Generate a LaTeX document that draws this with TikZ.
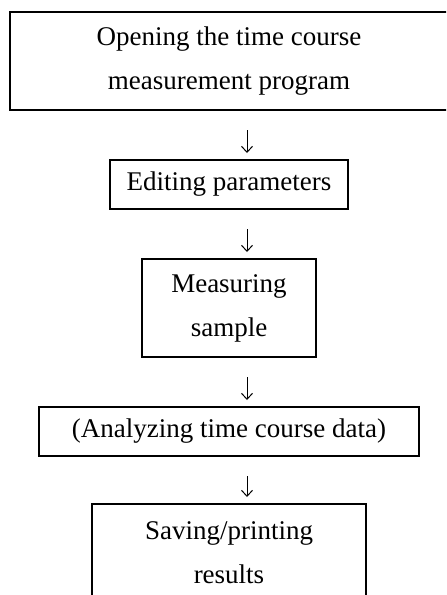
\documentclass[tikz,border=0pt]{standalone}
\usepackage{fontspec}
\setmainfont{Liberation Serif}
\usetikzlibrary{arrows.meta, positioning}

\begin{document}
\begin{tikzpicture}[
    x=0.5pt, y=-0.5pt,
    node distance=25pt,
    stepbox/.style={rectangle, draw=black, line width=1.25pt, outer sep=0pt, align=center, text centered, inner sep=0pt,
        font=\fontsize{13.5}{22}\selectfont},
    onebox/.style={stepbox, minimum height=24.5pt},
    twobox/.style={stepbox, minimum height=49pt},
    arrow/.style={line width=0.5pt, -{Straight Barb[length=3pt, width=5.5pt]}, shorten <=10pt, shorten >=3.5pt},
]
    \useasboundingbox (0,0) rectangle (446,595);
    \clip (0,0) rectangle (446,595);

    % Steps (the first box runs off the right edge)
    \node (open_prog) [twobox, anchor=west] at (10,61)
        {\parbox{219pt}{\centering Opening the time course\\measurement program}\hspace{21pt}};
    \node (edit_params) [onebox, minimum width=119pt] at (229,184.5) {Editing parameters};
    \node (measure) [twobox, minimum width=87pt, below=of edit_params] {Measuring\\sample};
    \node (analyze) [onebox, minimum width=190pt, below=of measure] {(Analyzing time course data)};
    \node (save_print) [twobox, minimum width=137pt, below=of analyze, yshift=1pt] {Saving/printing\\results};

    \draw [arrow] ([xshift=9pt]open_prog.south -| edit_params.north) -- ([xshift=9pt]edit_params.north);
    \draw [arrow] ([xshift=9pt]edit_params.south) -- ([xshift=9pt]measure.north);
    \draw [arrow] ([xshift=9pt]measure.south) -- ([xshift=9pt]analyze.north);
    \draw [arrow] ([xshift=9pt]analyze.south) -- ([xshift=9pt]save_print.north);

\end{tikzpicture}
\end{document}
